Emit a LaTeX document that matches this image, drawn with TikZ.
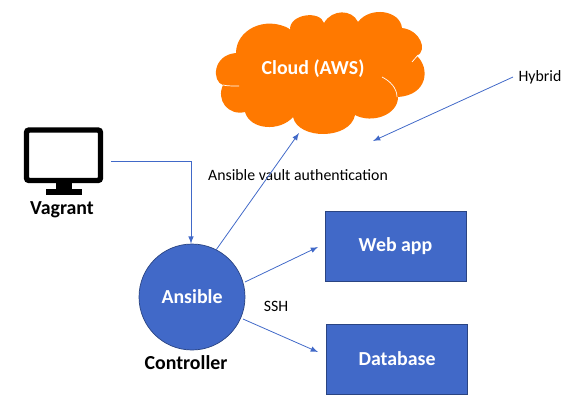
\documentclass[tikz,border=0pt]{standalone}
\usepackage{fontspec}
\setmainfont{Carlito}
\definecolor{boxblue}{HTML}{4169C8}
\definecolor{cloudorange}{HTML}{FF7900}
\begin{document}
\begin{tikzpicture}[x=0.02cm,y=-0.02cm]
    % Node styles
    \tikzstyle{none}=[inner sep=0mm]
    \tikzstyle{plain text}=[inner sep=0mm, font=\fontsize{9}{11}\selectfont]
    \tikzstyle{bold text}=[inner sep=0mm, font=\fontsize{11.3}{13}\selectfont\bfseries]
    \tikzstyle{white text}=[inner sep=0mm, text=white, font=\fontsize{11.3}{13}\selectfont\bfseries]
    \tikzstyle{blue box}=[fill=boxblue, draw=boxblue!65!black, line width=0.5pt, shape=rectangle, minimum width=2.82cm, minimum height=1.4cm, inner sep=0mm, text=white, font=\fontsize{11.3}{13}\selectfont\bfseries]
    \tikzstyle{blue circle}=[fill=boxblue, draw=boxblue!65!black, line width=0.4pt, shape=circle, minimum size=2.12cm, inner sep=0mm, text=white, font=\fontsize{11.3}{13}\selectfont\bfseries]
    % Edge styles
    \tikzstyle{arrow}=[-latex, draw=boxblue, line width=0.45pt]
    \tikzstyle{lobe}=[white, line width=0.4pt]

    \useasboundingbox (0,0) rectangle (570,400);

    % cloud
    \fill [cloudorange] (236,53)
        .. controls (236,30) and (265,15) .. (290,29)
        .. controls (290,14) and (320,10) .. (324,23)
        .. controls (332,9) and (352,9) .. (358,22)
        .. controls (370,6) and (400,10) .. (402,28)
        .. controls (420,30) and (428,50) .. (417,56)
        .. controls (430,68) and (428,95) .. (398,97)
        .. controls (398,115) and (372,124) .. (355,115)
        .. controls (350,140) and (298,140) .. (293,117)
        .. controls (280,132) and (250,130) .. (245,112)
        .. controls (228,116) and (216,100) .. (223,85)
        .. controls (212,82) and (212,55) .. (236,53)
        -- cycle;
    \draw [style=lobe] (382,77) .. controls (390,81) and (397,88) .. (397,97);
    \draw [style=lobe] (223,85) .. controls (227,86) and (232,86) .. (239,86);
    \draw [style=lobe] (286,25) -- (290,29);
    \draw [style=lobe] (412,62) -- (418,55);
    \node [style=white text] (2) at (313,69) {Cloud (AWS)};

    % monitor
    \draw [black, line width=3.1pt, rounded corners=1.5pt, fill=white] (26.5,130) rectangle (100.5,180.5);
    \fill [black] (56,182) rectangle (72,190);
    \fill [black] (46,189) rectangle (82,195);
    \node [style=bold text] (1) at (62,210) {Vagrant};

    \node [style=blue circle] (5) at (192,297) {Ansible};
    \node [style=bold text] (6) at (186,363) {Controller};
    \node [style=blue box] (7) at (395.5,246) {Web app};
    \node [style=blue box] (8) at (397,359) {Database};
    \node [style=plain text] (9) at (298,175) {Ansible vault authentication};
    \node [style=plain text] (10) at (276,306) {SSH};
    \node [style=plain text] (11) at (540,77) {Hybrid};

    \coordinate (3) at (111,161);
    \coordinate (4) at (191,161);
    \coordinate (12) at (216,250);
    \coordinate (13) at (299,133);
    \coordinate (14) at (245,282);
    \coordinate (15) at (318,247);
    \coordinate (16) at (243,319);
    \coordinate (17) at (318,352);
    \coordinate (18) at (513,77);
    \coordinate (19) at (373,141);

    \draw [style=arrow] (3) -- (4) -- (5.north -| 4);
    \draw [style=arrow] (12) to (13);
    \draw [style=arrow] (14) to (15);
    \draw [style=arrow] (16) to (17);
    \draw [style=arrow] (18) to (19);
\end{tikzpicture}
\end{document}
